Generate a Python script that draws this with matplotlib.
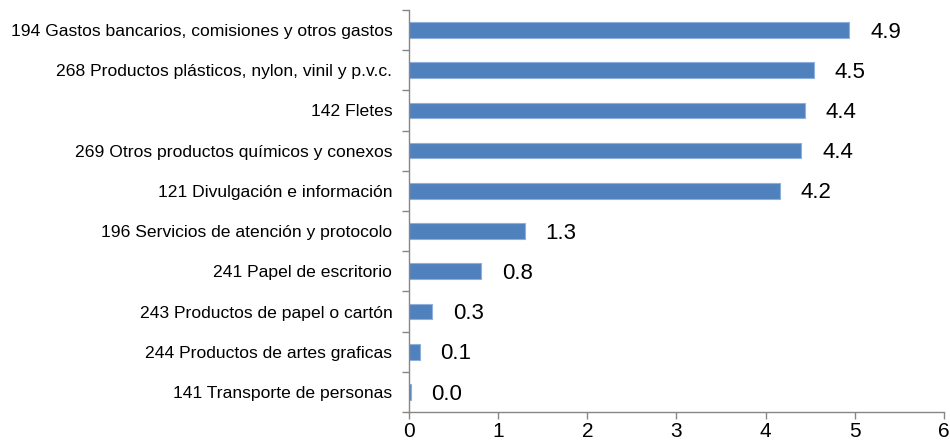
import matplotlib
matplotlib.use("Agg")
import matplotlib.pyplot as plt
from matplotlib.ticker import FixedLocator, NullFormatter

# datos (de arriba hacia abajo)
categorias = [
    "194 Gastos bancarios, comisiones y otros gastos",
    "268 Productos plásticos, nylon, vinil y p.v.c.",
    "142 Fletes",
    "269 Otros productos químicos y conexos",
    "121 Divulgación e información",
    "196 Servicios de atención y protocolo",
    "241 Papel de escritorio",
    "243 Productos de papel o cartón",
    "244 Productos de artes graficas",
    "141 Transporte de personas",
]
valores = [4.94, 4.54, 4.44, 4.40, 4.16, 1.30, 0.81, 0.26, 0.12, 0.02]
etiquetas = ["4.9", "4.5", "4.4", "4.4", "4.2", "1.3", "0.8", "0.3", "0.1", "0.0"]
ticks_x = [0, 1, 2, 3, 4, 5, 6]

fuente = ["Liberation Sans Narrow", "Liberation Sans", "DejaVu Sans"]
plt.rcParams['font.family'] = fuente

fig = plt.figure(figsize=(9.5, 4.47), dpi=100)
ax = fig.add_axes([0.4305, 0.078, 0.5632, 0.900])

n = len(categorias)
pos = [n - 1 - i for i in range(n)]
ax.barh(pos, valores, height=0.39, color="#4F81BD", edgecolor="#8FB0DC", linewidth=0.8)

for p, v, t in zip(pos, valores, etiquetas):
    ax.annotate(t, xy=(v, p), xytext=(15, -1.5), textcoords="offset points",
                ha="left", va="center", fontsize=16, color="black")

ax.set_xlim(0, 6)
ax.set_ylim(-0.5, n - 0.5)
ax.set_xticks(ticks_x)
ax.set_xticklabels([str(t) for t in ticks_x], fontsize=15)
ax.set_yticks(pos)
ax.set_yticklabels(categorias, fontsize=12.6)
ax.tick_params(axis="y", which="major", length=0, pad=12)
ax.yaxis.set_minor_locator(FixedLocator([i - 0.5 for i in range(n + 1)]))
ax.yaxis.set_minor_formatter(NullFormatter())
ax.tick_params(axis="y", which="minor", length=5, color="#868686", width=1)
ax.tick_params(axis="x", length=5, color="#868686", width=1, pad=2)

for s in ["top", "right"]:
    ax.spines[s].set_visible(False)
for s in ["left", "bottom"]:
    ax.spines[s].set_color("#868686")
    ax.spines[s].set_linewidth(1)

fig.savefig("out.png", dpi=100)
